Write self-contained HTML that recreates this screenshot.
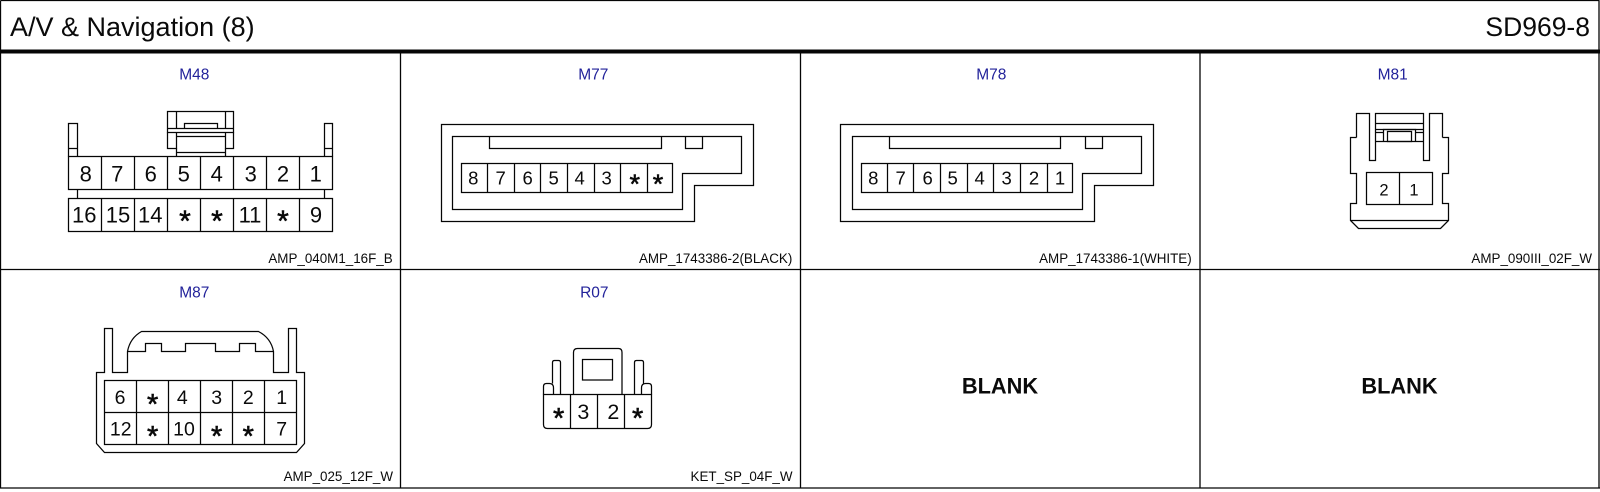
<!DOCTYPE html>
<html><head><meta charset="utf-8"><title>A/V &amp; Navigation (8)</title>
<style>
html,body{margin:0;padding:0;background:#fff;width:1600px;height:492px;overflow:hidden}
svg{display:block}
text{font-family:"Liberation Sans",Arial,sans-serif;fill:#0a0a0a}
.g{fill:none;stroke:#050505;stroke-width:1.25}
.f{stroke:#050505;stroke-width:1.3;fill:none}
.t{font-size:27px}
.t2{font-size:26.5px}
text.l{font-size:15.5px;fill:#22229a;text-anchor:middle}
.p{font-size:13.4px;text-anchor:end}
.b{font-size:21.8px;font-weight:bold;text-anchor:middle}
.d{text-anchor:middle}
.a{font-size:22px}.c{font-size:18.5px}.e{font-size:16.5px}.h{font-size:19.5px}.r{font-size:21.5px}
.s{text-anchor:middle;stroke:#050505;stroke-width:.55}
</style></head><body>
<svg width="1600" height="492" viewBox="0 0 1600 492" xmlns="http://www.w3.org/2000/svg">
<rect width="1600" height="492" fill="#fff"/>
<!-- frame -->
<path class="f" d="M0.5 0.5H1599.5M0.5 0.5V488M1599 0.5V488M0 488H1600M0 269.5H1600M400.5 51V488M800.5 51V488M1200 51V488"/>
<rect x="0" y="49.5" width="1600" height="4" fill="#050505"/>
<text class="t" x="10" y="36">A/V &amp; Navigation (8)</text>
<text class="t2" x="1590" y="36" text-anchor="end">SD969-8</text>

<!-- labels -->
<text class="l" x="194.3" y="79.3">M48</text>
<text class="l" x="593.3" y="79.3">M77</text>
<text class="l" x="991.3" y="79.3">M78</text>
<text class="l" x="1392.7" y="79.3">M81</text>
<text class="l" x="194.3" y="297.5">M87</text>
<text class="l" x="594.3" y="297.5">R07</text>
<text class="p" x="392.7" y="263">AMP_040M1_16F_B</text>
<text class="p" x="792.3" y="263">AMP_1743386-2(BLACK)</text>
<text class="p" x="1191.7" y="263">AMP_1743386-1(WHITE)</text>
<text class="p" x="1592" y="263">AMP_090III_02F_W</text>
<text class="p" x="393" y="481">AMP_025_12F_W</text>
<text class="p" x="792.5" y="481">KET_SP_04F_W</text>
<text class="b" x="1000" y="393.5">BLANK</text>
<text class="b" x="1399.5" y="393.5">BLANK</text>

<!-- M48 -->
<g class="g">
<rect x="68.5" y="156.5" width="264" height="33"/>
<rect x="68.5" y="198.5" width="264" height="33"/>
<path d="M101.5 156.5V189.5M134.5 156.5V189.5M167.5 156.5V189.5M200.5 156.5V189.5M233.5 156.5V189.5M266.5 156.5V189.5M299.5 156.5V189.5"/>
<path d="M101.5 198.5V231.5M134.5 198.5V231.5M167.5 198.5V231.5M200.5 198.5V231.5M233.5 198.5V231.5M266.5 198.5V231.5M299.5 198.5V231.5"/>
<path d="M77.5 189.5V198.5M324.5 189.5V198.5"/>
<path d="M68.5 156.5V123.5H77.5V156.5M68.5 148.5H77.5M324.5 156.5V123.5H332.5V156.5M324.5 148.5H332.5"/>
<rect x="167.5" y="111.5" width="66" height="21"/>
<path d="M167.5 128.5H233.5M176.5 111.5V128.5M225.5 111.5V128.5"/>
<path d="M184.5 128.5V123.5H217.5V128.5"/>
<path d="M167.5 132.5V148.5H176.5V132.5M225.5 132.5V148.5H233.5V132.5"/>
<path d="M176.5 136.5H225.5M176.5 148.5V156.5M225.5 148.5V156.5M176.5 152.5H225.5"/>
</g>
<g class="a d">
<text class="d" x="85.7" y="181.5">8</text><text class="d" x="117.3" y="181.5">7</text><text class="d" x="150.7" y="181.5">6</text><text class="d" x="183.7" y="181.5">5</text><text class="d" x="216.7" y="181.5">4</text><text class="d" x="250.7" y="181.5">3</text><text class="d" x="283" y="181.5">2</text><text class="d" x="315.7" y="181.5">1</text>
<text class="d" x="84.3" y="222.7">16</text><text class="d" x="118" y="222.7">15</text><text class="d" x="150.3" y="222.7">14</text><text class="d" x="250" y="222.7">11</text><text class="d" x="316" y="222.7">9</text>
</g>
<g font-size="30"><text class="s" x="185" y="231">*</text><text class="s" x="217" y="231">*</text><text class="s" x="283" y="231">*</text></g>

<!-- M77 -->
<g class="g">
<path d="M441.5 124.5H753.5V185.5H694.5V221.5H441.5Z"/>
<path d="M452.5 136.5H741.5V173.5H682.5V209.5H452.5Z"/>
<path d="M489.5 136.5V148.5H661.5V136.5M685.5 136.5V148.5H702.5V136.5"/>
<rect x="461.5" y="163.5" width="211" height="29"/>
<path d="M487.5 163.5V192.5M514.5 163.5V192.5M540.5 163.5V192.5M567.5 163.5V192.5M594.5 163.5V192.5M620.5 163.5V192.5M647.5 163.5V192.5"/>
</g>
<g class="c">
<text class="d" x="473.3" y="184.3">8</text><text class="d" x="500.7" y="184.3">7</text><text class="d" x="527.7" y="184.3">6</text><text class="d" x="553.7" y="184.3">5</text><text class="d" x="579.7" y="184.3">4</text><text class="d" x="606.7" y="184.3">3</text>
</g>
<g font-size="27"><text class="s" x="634.7" y="193.2">*</text><text class="s" x="658" y="193.2">*</text></g>

<!-- M78 -->
<g class="g">
<path d="M840.5 124.5H1153.5V185.5H1094.5V221.5H840.5Z"/>
<path d="M852.5 136.5H1141.5V173.5H1082.5V209.5H852.5Z"/>
<path d="M889.5 136.5V148.5H1060.5V136.5M1085.5 136.5V148.5H1102.5V136.5"/>
<rect x="861.5" y="163.5" width="211" height="29"/>
<path d="M887.5 163.5V192.5M913.5 163.5V192.5M940.5 163.5V192.5M967.5 163.5V192.5M993.5 163.5V192.5M1020.5 163.5V192.5M1047.5 163.5V192.5"/>
</g>
<g class="c">
<text class="d" x="873.3" y="184.3">8</text><text class="d" x="900.7" y="184.3">7</text><text class="d" x="927.7" y="184.3">6</text><text class="d" x="952.7" y="184.3">5</text><text class="d" x="979.7" y="184.3">4</text><text class="d" x="1006.7" y="184.3">3</text><text class="d" x="1034" y="184.3">2</text><text class="d" x="1060" y="184.3">1</text>
</g>

<!-- M81 -->
<g class="g">
<path d="M1356.5 137.5V113.5H1369.5V160.5H1375.5V113.5H1423.5V160.5H1429.5V113.5H1442.5V137.5"/>
<path d="M1356.5 137.5H1350.5V173.5H1356.5V203.5H1350.5V220.5L1358.5 228.5H1440.5L1448.5 220.5V203.5H1442.5V173.5H1448.5V137.5H1442.5"/>
<path d="M1350.5 220.5H1448.5"/>
<rect x="1366.5" y="172.5" width="66" height="32"/>
<path d="M1399.5 172.5V204.5"/>
<path d="M1375.5 123.5H1423.5M1375.5 129.5H1423.5M1375.5 141.5H1423.5M1375.5 132.5H1383.5M1415.5 132.5H1423.5"/>
<path d="M1383.5 141.5V129.5H1415.5V141.5"/>
<rect x="1387.5" y="131.5" width="24" height="10"/>
</g>
<g class="e"><text class="d" x="1384" y="195.3">2</text><text class="d" x="1414" y="195.3">1</text></g>

<!-- M87 -->
<g class="g">
<path d="M104.5 372.5V328.5H112.5V372.5H127.5V351.5Q130 338 141.5 331.5H258.5Q271 338 273.5 351.5V372.5H288.5V328.5H296.5V372.5H304.5V443.5L296.5 452.5H104.5L96.5 443.5V372.5Z"/>
<path d="M127.5 351.5H145.5V343.5H161.5V351.5H185.5V343.5H215.5V351.5H239.5V343.5H255.5V351.5H273.5"/>
<rect x="104.5" y="380.5" width="192" height="64"/>
<path d="M104.5 412.5H296.5M136.5 380.5V444.5M168.5 380.5V444.5M200.5 380.5V444.5M232.5 380.5V444.5M264.5 380.5V444.5"/>
</g>
<g class="h">
<text class="d" x="120" y="404">6</text><text class="d" x="182.3" y="404">4</text><text class="d" x="216.7" y="404">3</text><text class="d" x="248.3" y="404">2</text><text class="d" x="281.7" y="404">1</text>
<text class="d" x="120.7" y="435.7">12</text><text class="d" x="184" y="435.7">10</text><text class="d" x="281.7" y="435.7">7</text>
</g>
<g font-size="29"><text class="s" x="152.7" y="414.2">*</text><text class="s" x="152.7" y="446">*</text><text class="s" x="216.7" y="446">*</text><text class="s" x="248.3" y="446">*</text></g>

<!-- R07 -->
<g class="g">
<path d="M543.5 394.5H651.5V424.5Q651.5 428.5 647.5 428.5H547.5Q543.5 428.5 543.5 424.5Z"/>
<path d="M570.5 394.5V428.5M597.5 394.5V428.5M624.5 394.5V428.5"/>
<path d="M543.5 394.5V386.5Q543.5 383.5 546.5 383.5H549.5Q553.5 383.5 553.5 388V394.5"/>
<path d="M651.5 394.5V386.5Q651.5 383.5 648.5 383.5H645.5Q641.5 383.5 641.5 388V394.5"/>
<path d="M552.5 383.5V362.5Q552.5 360.5 554.5 360.5H558.5Q560.5 360.5 560.5 362.5V394.5"/>
<path d="M634.5 394.5V362.5Q634.5 360.5 636.5 360.5H641.5Q643.5 360.5 643.5 362.5V383.5"/>
<path d="M573.5 394.5V352.5Q573.5 348.5 577.5 348.5H618.5Q622 348.5 622 352.5V394.5"/>
<rect x="582.5" y="359.5" width="30" height="20.5"/>
</g>
<g class="r"><text class="d" x="583.3" y="419">3</text><text class="d" x="613.3" y="419">2</text></g>
<g font-size="29"><text class="s" x="558.7" y="428">*</text><text class="s" x="637.7" y="428">*</text></g>
</svg>
</body></html>
